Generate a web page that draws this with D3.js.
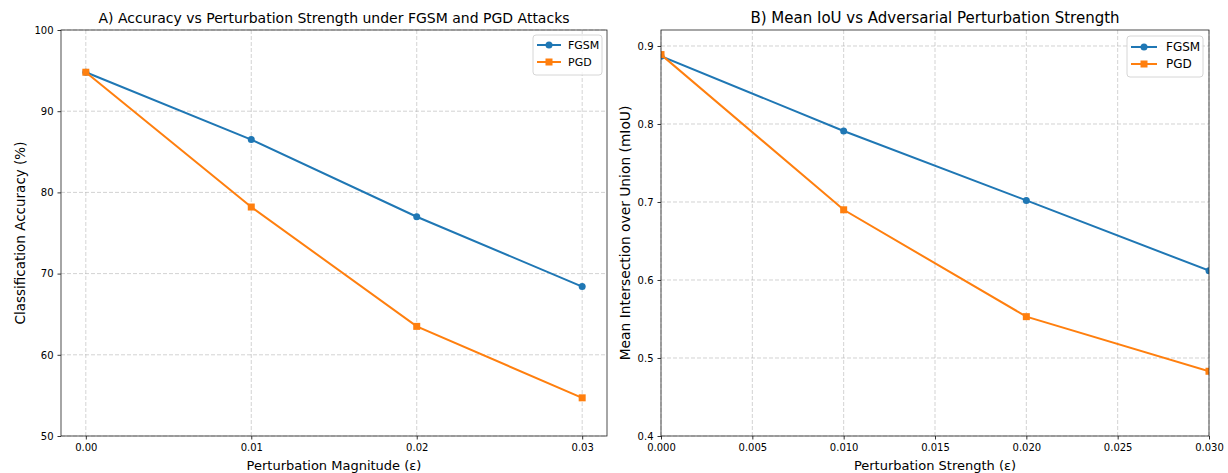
<!DOCTYPE html>
<html>
<head>
<meta charset="utf-8">
<script src="https://cdn.jsdelivr.net/npm/d3@7"></script>
<style>
  body { margin: 0; background: white; }
  svg { font-family: "DejaVu Sans", sans-serif; }
</style>
</head>
<body>
<div id="chart"></div>
<script>
// data
const epsilons = [0.0, 0.01, 0.02, 0.03];
const seriesNames = ["FGSM", "PGD"];
const accFGSM = [94.8, 86.5, 77.0, 68.4];
const accPGD = [94.8, 78.2, 63.5, 54.7];
const miouFGSM = [0.887, 0.791, 0.702, 0.612];
const miouPGD = [0.889, 0.690, 0.553, 0.483];
const accTicksX = [0.0, 0.01, 0.02, 0.03];
const accTicksY = [50, 60, 70, 80, 90, 100];
const miouTicksX = [0.0, 0.005, 0.01, 0.015, 0.02, 0.025, 0.03];
const miouTicksY = [0.4, 0.5, 0.6, 0.7, 0.8, 0.9];

const colors = ["#1f77b4", "#ff7f0e"];
const w = 1228, h = 473;

const svg = d3.select("#chart").append("svg")
  .attr("width", w)
  .attr("height", h)
  .style("background-color", "white");

function drawPanel(cfg) {
  const g = svg.append("g");
  const x = d3.scaleLinear().domain(cfg.xDomain).range([cfg.left, cfg.right]);
  const y = d3.scaleLinear().domain(cfg.yDomain).range([cfg.bottom, cfg.top]);

  // grid
  g.selectAll(".gx").data(cfg.xTicks).enter().append("line")
    .attr("x1", d => x(d)).attr("x2", d => x(d))
    .attr("y1", cfg.top).attr("y2", cfg.bottom)
    .attr("stroke", "#b0b0b0").attr("stroke-opacity", 0.7)
    .attr("stroke-dasharray", "4,2").attr("stroke-width", 0.8);
  g.selectAll(".gy").data(cfg.yTicks).enter().append("line")
    .attr("x1", cfg.left).attr("x2", cfg.right)
    .attr("y1", d => y(d)).attr("y2", d => y(d))
    .attr("stroke", "#b0b0b0").attr("stroke-opacity", 0.7)
    .attr("stroke-dasharray", "4,2").attr("stroke-width", 0.8);

  // clip
  const clipId = "clip" + cfg.id;
  svg.append("clipPath").attr("id", clipId).append("rect")
    .attr("x", cfg.left).attr("y", cfg.top)
    .attr("width", cfg.right - cfg.left).attr("height", cfg.bottom - cfg.top);
  const plot = g.append("g").attr("clip-path", `url(#${clipId})`);

  const line = d3.line().x((d, i) => x(epsilons[i])).y(d => y(d));
  cfg.series.forEach((s, k) => {
    plot.append("path").datum(s)
      .attr("d", line).attr("fill", "none")
      .attr("stroke", colors[k]).attr("stroke-width", 2);
    if (k === 0) {
      plot.selectAll(".c" + k).data(s).enter().append("circle")
        .attr("cx", (d, i) => x(epsilons[i])).attr("cy", d => y(d))
        .attr("r", 3.5).attr("fill", colors[k]);
    } else {
      plot.selectAll(".s" + k).data(s).enter().append("rect")
        .attr("x", (d, i) => x(epsilons[i]) - 3.5).attr("y", d => y(d) - 3.5)
        .attr("width", 7).attr("height", 7).attr("fill", colors[k]);
    }
  });

  // axes
  const xAxis = d3.axisBottom(x).tickValues(cfg.xTicks).tickFormat(cfg.xFormat).tickSize(3.5).tickPadding(4);
  const yAxis = d3.axisLeft(y).tickValues(cfg.yTicks).tickFormat(cfg.yFormat).tickSize(3.5).tickPadding(4);
  const gx = g.append("g").attr("transform", `translate(0,${cfg.bottom})`).call(xAxis);
  const gy = g.append("g").attr("transform", `translate(${cfg.left},0)`).call(yAxis);
  [gx, gy].forEach(a => {
    a.select(".domain").remove();
    a.selectAll("text").attr("font-size", cfg.tickFont).attr("fill", "#000")
      .attr("font-family", "DejaVu Sans");
    a.selectAll("line").attr("stroke", "#000").attr("stroke-width", 0.8);
  });

  // frame
  g.append("rect")
    .attr("x", cfg.left).attr("y", cfg.top)
    .attr("width", cfg.right - cfg.left).attr("height", cfg.bottom - cfg.top)
    .attr("fill", "none").attr("stroke", "#222").attr("stroke-width", 0.8);

  // titles
  g.append("text")
    .attr("x", (cfg.left + cfg.right) / 2).attr("y", cfg.top - 7)
    .attr("text-anchor", "middle").attr("font-size", cfg.titleFont)
    .text(cfg.title);
  g.append("text")
    .attr("x", (cfg.left + cfg.right) / 2).attr("y", cfg.bottom + 34)
    .attr("text-anchor", "middle").attr("font-size", cfg.labelFont)
    .text(cfg.xLabel);
  g.append("text")
    .attr("transform", "rotate(-90)")
    .attr("x", -(cfg.top + cfg.bottom) / 2).attr("y", cfg.yLabelX)
    .attr("text-anchor", "middle").attr("font-size", cfg.yLabelFont)
    .text(cfg.yLabel);

  // legend
  const L = cfg.legend;
  const lg = g.append("g").attr("transform", `translate(${L.x},${L.y})`);
  lg.append("rect").attr("width", L.w).attr("height", L.h)
    .attr("rx", 3).attr("fill", "white").attr("fill-opacity", 0.8)
    .attr("stroke", "#cccccc").attr("stroke-width", 0.8);
  seriesNames.forEach((name, k) => {
    const cy = L.rows[k];
    const mx = (L.x1 + L.x2) / 2;
    lg.append("line").attr("x1", L.x1).attr("x2", L.x2).attr("y1", cy).attr("y2", cy)
      .attr("stroke", colors[k]).attr("stroke-width", 2);
    if (k === 0) lg.append("circle").attr("cx", mx).attr("cy", cy).attr("r", 3.5).attr("fill", colors[k]);
    else lg.append("rect").attr("x", mx - 3.5).attr("y", cy - 3.5).attr("width", 7).attr("height", 7).attr("fill", colors[k]);
    lg.append("text").attr("x", L.tx).attr("y", cy).attr("dy", "0.35em")
      .attr("font-size", cfg.legendFont).text(name);
  });
}

drawPanel({
  id: "a", left: 61, right: 607, top: 30, bottom: 436,
  xDomain: [-0.0015, 0.0315], yDomain: [50, 100],
  xTicks: accTicksX, yTicks: accTicksY,
  xFormat: d3.format(".2f"), yFormat: d3.format("d"),
  series: [accFGSM, accPGD],
  title: "A) Accuracy vs Perturbation Strength under FGSM and PGD Attacks",
  xLabel: "Perturbation Magnitude (ε)",
  yLabel: "Classification Accuracy (%)",
  yLabelX: 25, yLabelFont: 13.5,
  titleFont: 14, labelFont: 13, tickFont: 10, legendFont: 11,
  legend: { x: 533, y: 35, w: 69, h: 40, x1: 4, x2: 28, tx: 35, rows: [10, 27] }
});

drawPanel({
  id: "b", left: 661, right: 1209, top: 30, bottom: 436,
  xDomain: [0, 0.03], yDomain: [0.4, 0.9205],
  xTicks: miouTicksX, yTicks: miouTicksY,
  xFormat: d3.format(".3f"), yFormat: d3.format(".1f"),
  series: [miouFGSM, miouPGD],
  title: "B) Mean IoU vs Adversarial Perturbation Strength",
  xLabel: "Perturbation Strength (ε)",
  yLabel: "Mean Intersection over Union (mIoU)",
  yLabelX: 630, yLabelFont: 13.8,
  titleFont: 15, labelFont: 13, tickFont: 10, legendFont: 12,
  legend: { x: 1127, y: 36, w: 76, h: 41, x1: 4, x2: 30, tx: 39, rows: [11, 28] }
});
</script>
</body>
</html>
